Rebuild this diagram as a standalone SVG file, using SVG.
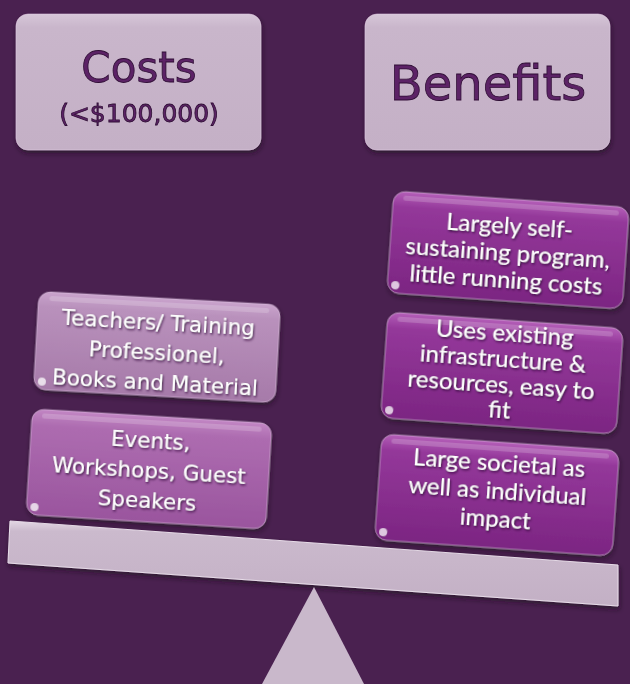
<svg xmlns="http://www.w3.org/2000/svg" width="630" height="684" viewBox="0 0 630 684">
<defs>
<linearGradient id="gHead" x1="0" y1="0" x2="0" y2="1">
<stop offset="0" stop-color="#d6c6d8"/><stop offset="0.1" stop-color="#c9b6cb"/><stop offset="1" stop-color="#c4b0c6"/>
</linearGradient>
<linearGradient id="gTeach" x1="0" y1="0" x2="0" y2="1">
<stop offset="0" stop-color="#c9a3cc"/><stop offset="0.15" stop-color="#b991bc"/><stop offset="1" stop-color="#a67aa9"/>
</linearGradient>
<linearGradient id="gEvent" x1="0" y1="0" x2="0" y2="1">
<stop offset="0" stop-color="#c286c4"/><stop offset="0.15" stop-color="#ad6cb0"/><stop offset="1" stop-color="#9a559e"/>
</linearGradient>
<linearGradient id="gBen" x1="0" y1="0" x2="0" y2="1">
<stop offset="0" stop-color="#b45fb8"/><stop offset="0.15" stop-color="#94389a"/><stop offset="1" stop-color="#7c2582"/>
</linearGradient>
<linearGradient id="gBeam" x1="0" y1="0" x2="0" y2="1">
<stop offset="0" stop-color="#e2d6e3"/><stop offset="0.12" stop-color="#cbbacd"/><stop offset="1" stop-color="#c3b0c5"/>
</linearGradient>
<filter id="sh" x="-10%" y="-10%" width="120%" height="130%">
<feDropShadow dx="1" dy="3" stdDeviation="2.5" flood-color="#1e0a22" flood-opacity="0.6"/>
</filter>
<filter id="tsh" x="-10%" y="-10%" width="120%" height="130%">
<feDropShadow dx="1" dy="1.5" stdDeviation="1" flood-color="#2a0c30" flood-opacity="0.85"/>
</filter>
</defs>
<style>
.box{stroke:#e6cfe8;stroke-width:1;stroke-opacity:0.5}
.hl{fill:#ffffff;opacity:0.18}
.dot{fill:#ffffff;opacity:0.75}
.comic{font-family:"DejaVu Sans","Noto Sans",sans-serif;font-size:21.5px;fill:#ffffff;text-anchor:middle;filter:url(#tsh)}
.gill{font-family:"Lato","Noto Sans",sans-serif;font-size:24px;fill:#ffffff;text-anchor:middle;filter:url(#tsh)}
.head{font-family:"DejaVu Sans","Noto Sans",sans-serif;fill:#5c2466;stroke:#2e0d34;stroke-width:0.8;text-anchor:middle}
</style>
<rect x="0" y="0" width="630" height="684" fill="#4a2150"/>

<g id="costs-header" filter="url(#sh)">
<rect x="16" y="14" width="245" height="136" rx="12" fill="url(#gHead)" class="box"/>
<text class="head" x="139" y="82" font-size="42">Costs</text>
<text class="head" x="139" y="122" font-size="25" stroke-width="0.5">(&lt;$100,000)</text>
</g>

<g id="benefits-header" filter="url(#sh)">
<rect x="365" y="14" width="245" height="136" rx="12" fill="url(#gHead)" class="box"/>
<text class="head" x="488" y="100" font-size="48">Benefits</text>
</g>

<g id="beam" filter="url(#sh)">
<polygon points="10,521 618,565 618,606 8,563" fill="url(#gBeam)" stroke="#e8dde9" stroke-width="1"/>
</g>
<g id="fulcrum">
<polygon points="314,587 364,684 262,684" fill="#c9b8cb"/>
</g>

<g id="teachers" transform="translate(157,347) rotate(3.2)" filter="url(#sh)">
<rect x="-121" y="-49" width="242" height="98" rx="12" fill="url(#gTeach)" class="box"/>
<rect x="-110" y="-45" width="220" height="5" rx="2.5" class="hl"/>
<circle cx="-113" cy="41" r="4" class="dot"/>
<text class="comic" x="0" y="-17">Teachers/ Training</text>
<text class="comic" x="0" y="13">Professionel,</text>
<text class="comic" x="0" y="43">Books and Material</text>
</g>

<g id="events" transform="translate(149,469) rotate(3.5)" filter="url(#sh)">
<rect x="-120" y="-53" width="240" height="106" rx="12" fill="url(#gEvent)" class="box"/>
<rect x="-110" y="-49" width="220" height="5" rx="2.5" class="hl"/>
<circle cx="-112" cy="45" r="4" class="dot"/>
<text class="comic" x="0" y="-21">Events,</text>
<text class="comic" x="0" y="9">Workshops, Guest</text>
<text class="comic" x="0" y="39">Speakers</text>
</g>

<g id="self-sustaining" transform="translate(508,250) rotate(4)" filter="url(#sh)">
<rect x="-118" y="-51" width="236" height="102" rx="12" fill="url(#gBen)" class="box"/>
<rect x="-108" y="-47" width="216" height="5" rx="2.5" class="hl"/>
<circle cx="-110" cy="43" r="4" class="dot"/>
<text class="gill" x="0" y="-16">Largely self-</text>
<text class="gill" x="0" y="11">sustaining program,</text>
<text class="gill" x="0" y="38">little running costs</text>
</g>

<g id="infrastructure" transform="translate(502,373) rotate(4)" filter="url(#sh)">
<rect x="-118" y="-53" width="236" height="106" rx="12" fill="url(#gBen)" class="box"/>
<rect x="-108" y="-49" width="216" height="5" rx="2.5" class="hl"/>
<circle cx="-110" cy="45" r="4" class="dot"/>
<text class="gill" x="0" y="-32">Uses existing</text>
<text class="gill" x="0" y="-6">infrastructure &amp;</text>
<text class="gill" x="0" y="20">resources, easy to</text>
<text class="gill" x="0" y="45">fit</text>
</g>

<g id="impact" transform="translate(497,495) rotate(4)" filter="url(#sh)">
<rect x="-119" y="-53" width="238" height="106" rx="12" fill="url(#gBen)" class="box"/>
<rect x="-109" y="-49" width="218" height="5" rx="2.5" class="hl"/>
<circle cx="-111" cy="45" r="4" class="dot"/>
<text class="gill" x="0" y="-24">Large societal as</text>
<text class="gill" x="0" y="4">well as individual</text>
<text class="gill" x="0" y="32">impact</text>
</g>
</svg>
